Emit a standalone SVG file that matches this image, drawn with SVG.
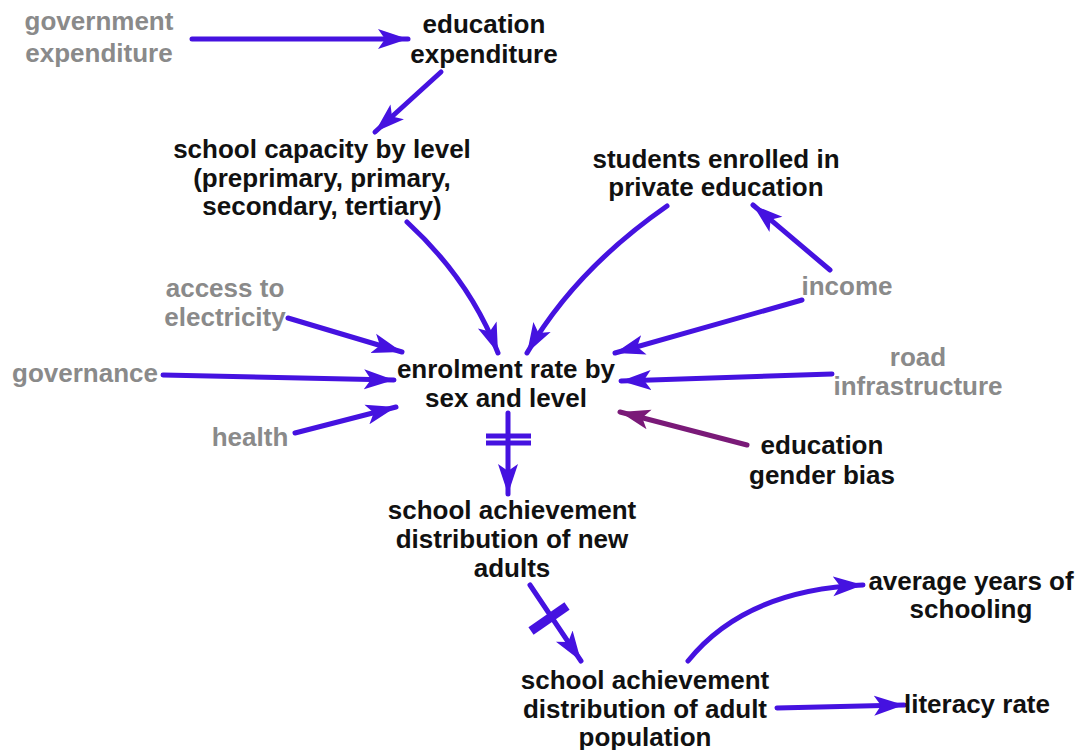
<svg xmlns="http://www.w3.org/2000/svg" width="1081" height="750" viewBox="0 0 1081 750">
<defs>
<style>
text{font-family:"Liberation Sans",Arial,sans-serif;font-weight:bold;font-size:26px;text-anchor:middle}
.k{fill:#111}
.g{fill:#8a8a8a}
.c{fill:none;stroke:#4512e0;stroke-width:5;stroke-linecap:round}
.p{fill:none;stroke:#7a1a78;stroke-width:5;stroke-linecap:round}
.h{fill:none;stroke:#4512e0;stroke-width:5}
</style>
<marker id="a" markerUnits="userSpaceOnUse" markerWidth="32" markerHeight="22" refX="30" refY="11" orient="auto" viewBox="0 0 32 22"><path d="M0,1 L30,11 L0,21 L7,11 Z" fill="#4512e0"/></marker>
<marker id="ap" markerUnits="userSpaceOnUse" markerWidth="32" markerHeight="22" refX="30" refY="11" orient="auto" viewBox="0 0 32 22"><path d="M0,1 L30,11 L0,21 L7,11 Z" fill="#7a1a78"/></marker>
</defs>
<rect width="1081" height="750" fill="#fff"/>
<g id="connectors">
<path class="c" d="M192,39 L408,39" marker-end="url(#a)"/>
<path class="c" d="M441,72 L375,132" marker-end="url(#a)"/>
<path class="c" d="M407,222 Q470,280 498,353" marker-end="url(#a)"/>
<path class="c" d="M667,206 Q575,270 527,353" marker-end="url(#a)"/>
<path class="c" d="M830,270 L753,205" marker-end="url(#a)"/>
<path class="c" d="M802,300 L615,353" marker-end="url(#a)"/>
<path class="c" d="M288,318 L402,352" marker-end="url(#a)"/>
<path class="c" d="M163,375 L394,380" marker-end="url(#a)"/>
<path class="c" d="M295,433 L396,407" marker-end="url(#a)"/>
<path class="c" d="M832,374 L621,381" marker-end="url(#a)"/>
<path class="p" d="M747,445 L620,412" marker-end="url(#ap)"/>
<path class="c" d="M508,413 L508,494" marker-end="url(#a)"/>
<path class="h" d="M486,436 L531,436 M486,443 L531,443"/>
<path class="c" d="M530,585 L581,661" marker-end="url(#a)"/>
<path class="h" style="stroke-width:9" d="M531,631 L567,606"/>
<path class="c" d="M688,661 Q745,590 863,585" marker-end="url(#a)"/>
<path class="c" d="M777,708 L904,705" marker-end="url(#a)"/>
</g>
<g id="n_gov"><text class="g" x="99" y="30">government</text><text class="g" x="99" y="62">expenditure</text></g>
<g id="n_eduexp"><text class="k" x="484" y="33">education</text><text class="k" x="484" y="63">expenditure</text></g>
<g id="n_cap"><text class="k" x="322" y="158">school capacity by level</text><text class="k" x="322" y="187">(preprimary, primary,</text><text class="k" x="322" y="215">secondary, tertiary)</text></g>
<g id="n_private"><text class="k" x="716" y="168">students enrolled in</text><text class="k" x="716" y="196">private education</text></g>
<g id="n_access"><text class="g" x="225" y="297">access to</text><text class="g" x="225" y="326">electricity</text></g>
<g id="n_income"><text class="g" x="847" y="295">income</text></g>
<g id="n_gov2"><text class="g" x="85" y="382">governance</text></g>
<g id="n_enrol"><text class="k" x="506" y="378">enrolment rate by</text><text class="k" x="506" y="407">sex and level</text></g>
<g id="n_road"><text class="g" x="918" y="366">road</text><text class="g" x="918" y="395">infrastructure</text></g>
<g id="n_health"><text class="g" x="250" y="446">health</text></g>
<g id="n_bias"><text class="k" x="822" y="454">education</text><text class="k" x="822" y="484">gender bias</text></g>
<g id="n_new"><text class="k" x="512" y="519">school achievement</text><text class="k" x="512" y="548">distribution of new</text><text class="k" x="512" y="577">adults</text></g>
<g id="n_avg"><text class="k" x="971" y="590">average years of</text><text class="k" x="971" y="618">schooling</text></g>
<g id="n_adult"><text class="k" x="645" y="689">school achievement</text><text class="k" x="645" y="718">distribution of adult</text><text class="k" x="645" y="746">population</text></g>
<g id="n_lit"><text class="k" x="977" y="713">literacy rate</text></g>
</svg>
